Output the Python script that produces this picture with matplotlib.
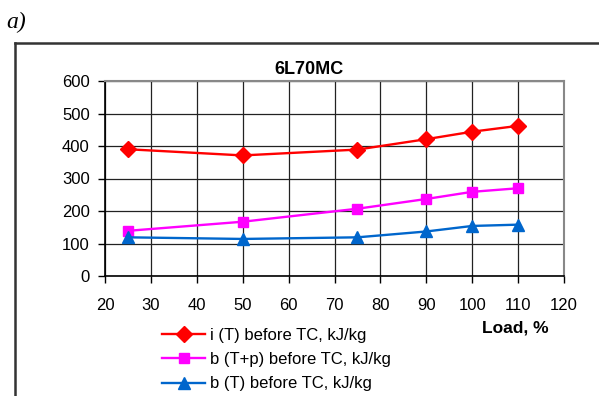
import numpy as np
import matplotlib.pyplot as plt
from matplotlib.lines import Line2D

# --- data ---
load = [25, 50, 75, 90, 100, 110]
i_T = [390, 371, 389, 421, 444, 462]
b_Tp = [139, 167, 207, 237, 259, 270]
b_T = [119, 114, 119, 137, 154, 158]

labels = ["i (T) before TC, kJ/kg",
          "b (T+p) before TC, kJ/kg",
          "b (T) before TC, kJ/kg"]
x_ticks = list(range(20, 121, 10))
y_ticks = list(range(0, 601, 100))

plt.rcParams['font.family'] = ['Liberation Sans', 'DejaVu Sans']

fig = plt.figure(figsize=(5.99, 3.96), dpi=100)
ax = fig.add_axes([105/599, 1 - 276/396, (564 - 105)/599, (276 - 81)/396])

ax.plot(load, i_T, color="#FF0000", lw=1.7, marker="D", ms=8, label=labels[0])
ax.plot(load, b_Tp, color="#FF00FF", lw=1.7, marker="s", ms=7.5, label=labels[1])
ax.plot(load, b_T, color="#0066CC", lw=1.7, marker="^", ms=9, label=labels[2])

ax.set_xlim(20, 120)
ax.set_ylim(0, 600)
ax.set_xticks(x_ticks)
ax.set_yticks(y_ticks)
ax.grid(True, color="#222222", lw=0.9)
ax.set_axisbelow(True)
ax.tick_params(direction="out", length=5, width=1, labelsize=12, colors="black")
ax.tick_params(axis="y", pad=6)
ax.tick_params(axis="x", pad=11)
for s in ["top", "right"]:
    ax.spines[s].set_color("#888888")
    ax.spines[s].set_linewidth(1.5)
for s in ["left", "bottom"]:
    ax.spines[s].set_color("black")
    ax.spines[s].set_linewidth(1.2)

# title sits a bit left of the plot centre in the original
ax.set_title("6L70MC", fontsize=13, fontweight="bold", pad=5, x=(309 - 105)/459)
fig.text(549/599, 1 - 328/396, "Load, %", fontsize=12.5, fontweight="bold",
         ha="right", va="center")

ax.legend(loc="upper left", bbox_to_anchor=(162/599, 1 - 328/396),
          bbox_transform=fig.transFigure, frameon=False, fontsize=12,
          handlelength=2.6, handletextpad=0.3, labelspacing=0.55,
          borderaxespad=0, borderpad=0)

# outer frame (only left and top edges visible)
fig.add_artist(Line2D([15/599, 15/599], [-0.05, 1 - 43/396], transform=fig.transFigure,
                      color="#333333", lw=1.8))
fig.add_artist(Line2D([15/599, 1.05], [1 - 43/396, 1 - 43/396], transform=fig.transFigure,
                      color="#333333", lw=1.8))

fig.text(6/599, 1 - 22/396, "a)", family=["Liberation Serif"], style="italic",
         fontsize=17, ha="left", va="center")

fig.savefig("out.png", dpi=100)
